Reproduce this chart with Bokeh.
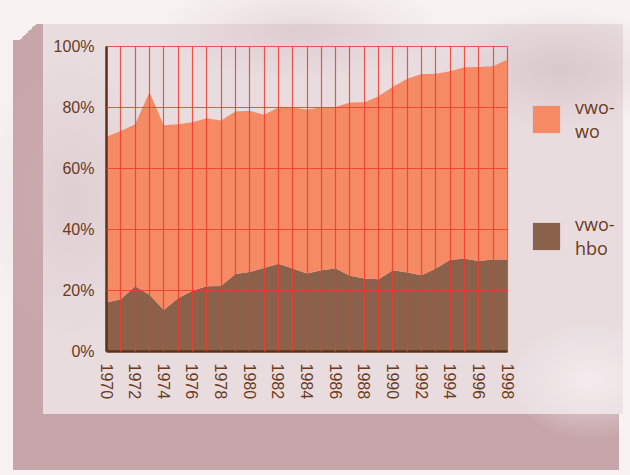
import math
from bokeh.plotting import figure
from bokeh.models import (ColumnDataSource, FixedTicker, Legend, LegendItem,
                          InlineStyleSheet)
from bokeh.embed import file_html
from bokeh.resources import INLINE

years = list(range(1970, 1999))
hbo = [16.1, 17.1, 21.4, 18.6, 13.6, 17.5, 19.9, 21.4, 21.5, 25.4,
       26.1, 27.4, 28.8, 27.2, 25.6, 26.6, 27.2, 24.8, 23.9, 23.7,
       26.6, 25.9, 25.0, 27.2, 30.1, 30.4, 29.7, 30.2, 30.2]
wo = [54.3, 55.2, 53.1, 66.4, 60.6, 57.0, 55.3, 55.1, 54.2, 53.3,
      52.8, 50.2, 51.2, 52.9, 53.7, 53.5, 53.0, 56.8, 57.8, 60.0,
      60.2, 63.5, 66.0, 63.9, 61.8, 62.8, 63.6, 63.3, 65.5]
series_labels = ["vwo-\nhbo", "vwo-\nwo"]
y_ticks = [0, 20, 40, 60, 80, 100]
y_tick_labels = ["0%", "20%", "40%", "60%", "80%", "100%"]
x_label_years = list(range(1970, 1999, 2))

BROWN = "#8a614a"
ORANGE = "#f58a65"
GRID = "#ee3b2c"
AXIS = "#5e3218"
TEXT = "#6b3a1c"
STONE = "#e8dcdf"
SHADOW = "#c7a6ab"
PAPER = "#f7f1f2"

css = f"""
:host {{
  background-color: {PAPER};
  background-image:
    radial-gradient(ellipse 120px 60px at 560px 70px, rgba(200,175,182,0.45), rgba(200,175,182,0)),
    radial-gradient(ellipse 90px 140px at 70px 200px, rgba(205,180,186,0.35), rgba(205,180,186,0)),
    radial-gradient(ellipse 140px 50px at 300px 30px, rgba(205,182,188,0.4), rgba(205,182,188,0)),
    radial-gradient(ellipse 80px 60px at 590px 380px, rgba(250,245,247,0.6), rgba(250,245,247,0)),
    linear-gradient({STONE}, {STONE}),
    linear-gradient(135deg, rgba(0,0,0,0) 50%, {SHADOW} 50%),
    linear-gradient({SHADOW}, {SHADOW}),
    linear-gradient({SHADOW}, {SHADOW});
  background-size:
    100% 100%, 100% 100%, 100% 100%, 100% 100%,
    580px 390px,
    30px 16px,
    30px 430px,
    606px 58px;
  background-position:
    0 0, 0 0, 0 0, 0 0,
    43px 24px,
    13px 24px,
    13px 40px,
    13px 412px;
  background-repeat: no-repeat;
}}
"""

source = ColumnDataSource(dict(year=years, hbo=hbo, wo=wo))

p = figure(frame_width=401, frame_height=305, output_backend="svg",
           toolbar_location=None,
           x_range=(1970, 1998), y_range=(0, 100),
           min_border_left=106, min_border_right=123,
           min_border_top=46, min_border_bottom=124)
p.stylesheets = [InlineStyleSheet(css=css)]
p.border_fill_color = None
p.background_fill_color = None
p.outline_line_color = GRID
p.outline_line_alpha = 0.85
p.outline_line_width = 1.2

rs = p.varea_stack(["hbo", "wo"], x="year", source=source,
                   color=[BROWN, ORANGE])

p.xgrid.ticker = FixedTicker(ticks=years)
p.ygrid.ticker = FixedTicker(ticks=y_ticks)
for g in (p.xgrid, p.ygrid):
    g.grid_line_color = GRID
    g.grid_line_width = 1.2
    g.grid_line_alpha = 0.85
    g.level = "overlay"

p.yaxis.ticker = FixedTicker(ticks=y_ticks)
p.yaxis.major_label_overrides = {t: s for t, s in zip(y_ticks, y_tick_labels)}
p.xaxis.ticker = FixedTicker(ticks=x_label_years)
p.xaxis.major_label_orientation = -math.pi / 2
for ax in (p.xaxis, p.yaxis):
    ax.axis_line_color = AXIS
    ax.axis_line_width = 2.5
    ax.major_tick_line_color = None
    ax.minor_tick_line_color = None
    ax.major_tick_out = 0
    ax.major_tick_in = 0
    ax.major_label_standoff = 12
    ax.major_label_text_color = TEXT
    ax.major_label_text_font = "Liberation Sans"
    ax.major_label_text_font_size = "16px"
    ax.major_label_text_font_style = "normal"

legend = Legend(items=[LegendItem(label=series_labels[1], renderers=[rs[1]]),
                       LegendItem(label=series_labels[0], renderers=[rs[0]])],
                location=(22, 91), glyph_width=34, glyph_height=34,
                label_standoff=12, spacing=69, padding=0, margin=0,
                border_line_color=None, background_fill_alpha=0,
                label_text_font="Open Sans", label_text_font_size="18px",
                label_text_color=TEXT, label_text_line_height=1.0)
p.add_layout(legend, "right")

open("out.html", "w").write(file_html(p, INLINE))
